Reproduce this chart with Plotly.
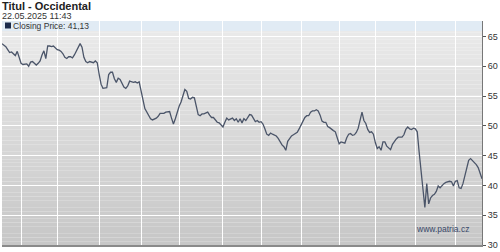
import pandas as pd
import plotly.graph_objects as go

# ---- data ----
title_text = "Titul - Occidental"
stamp_text = "22.05.2025 11:43"
series_name = "Closing Price"
watermark = "www.patria.cz"

holidays = ["2024-05-27", "2024-06-19", "2024-07-04", "2024-09-02", "2024-11-28",
            "2024-12-25", "2025-01-01", "2025-01-09", "2025-01-20", "2025-02-17",
            "2025-04-18"]
start_date = "2024-05-17"
end_date = "2025-05-21"

close = [
    63.8, 63.6, 63.3, 62.8, 62.3, 62.4, 62.0, 61.8, 62.5, 61.3,
    60.5, 60.3, 60.3, 60.4, 60.0, 60.7, 60.8, 60.5, 60.2, 60.5,
    60.9, 61.9, 62.6, 61.3, 63.4, 63.4, 63.3, 63.4, 63.0, 62.8,
    62.7, 62.5, 62.1, 61.5, 61.3, 61.6, 61.6, 61.4, 61.9, 62.6,
    63.4, 63.8, 63.2, 61.5, 60.8, 60.6, 60.8, 60.7, 60.6, 60.9,
    60.6, 58.7, 57.0, 56.3, 56.3, 56.4, 58.6, 59.0, 59.0, 57.9,
    57.3, 58.0, 57.8, 57.0, 56.5, 56.3, 56.7, 57.5, 57.4, 57.3,
    57.4, 57.2, 57.4, 55.6, 54.4, 52.9, 52.4, 51.9, 51.2, 51.0,
    51.1, 51.3, 51.6, 52.1, 52.1, 52.1, 52.3, 52.3, 52.4, 51.3,
    50.3, 51.2, 52.4, 53.3, 54.0, 55.3, 56.1, 55.8, 54.6, 54.5,
    54.8, 54.7, 53.0, 51.9, 51.7, 52.0, 52.0, 52.1, 52.3, 51.8,
    51.4, 51.4, 50.9, 50.6, 50.5, 50.2, 49.8, 50.6, 51.3, 51.0,
    51.1, 51.3, 50.9, 51.2, 50.6, 51.2, 50.5, 51.2, 50.9, 51.4,
    51.9, 51.8, 51.1, 50.7, 50.9, 50.6, 50.7, 50.3, 49.5, 48.6,
    48.4, 48.8, 48.6, 48.4, 48.3, 47.9, 47.2, 46.8, 46.5, 45.9,
    47.4, 47.9, 48.3, 48.5, 48.7, 48.9, 49.5, 50.2, 50.8, 51.4,
    51.7, 51.7, 52.3, 52.5, 52.5, 52.7, 52.5, 51.8, 50.8, 50.6,
    50.6, 49.9, 49.7, 49.4, 49.2, 49.0, 47.9, 47.0, 47.3, 47.2,
    47.1, 48.0, 48.6, 48.7, 48.4, 48.5, 48.9, 49.6, 51.0, 52.3,
    50.9, 50.4, 49.4, 48.9, 49.0, 48.6, 47.2, 46.2, 46.5, 45.9,
    47.3, 47.3, 46.6, 46.2, 46.0, 46.9, 47.4, 47.8, 48.1, 48.1,
    48.1, 48.5, 49.4, 49.8, 49.5, 49.4, 49.6, 49.5, 49.0, 45.6,
    41.8, 39.4, 36.3, 40.3, 36.9, 37.9, 38.3, 38.5, 39.0, 39.9,
    39.6, 40.0, 40.3, 40.5, 40.6, 40.7, 40.6, 39.9, 40.7, 40.8,
    39.6, 39.5, 40.3, 41.8, 42.7, 44.2, 44.5, 44.2, 43.8, 43.5,
    43.0, 42.2, 41.13,
]
y_ticks = [30, 35, 40, 45, 50, 55, 60, 65]
y_range = [30, 67.6]

# ---- build ----
dates = pd.bdate_range(start_date, end_date, freq="C", holidays=holidays)
dates = list(dates[:len(close)])
x = [d.strftime("%Y-%m-%d") for d in dates]
month_starts = [x[i] for i in range(1, len(dates)) if dates[i].month != dates[i - 1].month]

FONT = "Liberation Sans, Arial, sans-serif"
fig = go.Figure()
fig.add_trace(go.Scatter(x=x, y=close, mode="lines",
                         line=dict(color="#4b5569", width=1.3),
                         showlegend=False, hoverinfo="skip"))

# gradient background bands (style only)
shapes = []
n = 60
top = (235, 235, 235)
bot = (199, 199, 199)
for k in range(n):
    t = k / (n - 1)
    c = tuple(int(round(top[j] + (bot[j] - top[j]) * t)) for j in range(3))
    shapes.append(dict(type="rect", xref="paper", yref="paper",
                       x0=0, x1=1, y0=1 - (k + 1) / n, y1=1 - k / n,
                       fillcolor="rgb(%d,%d,%d)" % c, line=dict(width=0),
                       layer="below"))
# light blue legend band at top
shapes.append(dict(type="rect", xref="paper", yref="paper", x0=0, x1=1,
                   y0=0.955, y1=1, fillcolor="#e1ebf4", line=dict(width=0),
                   layer="below"))
# legend swatch (dark navy square)
shapes.append(dict(type="rect", xref="paper", yref="paper",
                   xsizemode="pixel", xanchor=0, x0=3, x1=9,
                   ysizemode="pixel", yanchor=1, y0=-1.5, y1=-7.5,
                   fillcolor="#1b2a4a", line=dict(width=0), layer="above"))

last_txt = f"{close[-1]:.2f}".replace(".", ",")
annotations = [
    dict(text="<b>" + title_text + "</b>", xref="paper", yref="paper", x=0, y=1,
         xanchor="left", yanchor="middle", xshift=-1, yshift=15.5, showarrow=False,
         borderpad=0, font=dict(family=FONT, size=11, color="#222222")),
    dict(text=stamp_text, xref="paper", yref="paper", x=0, y=1,
         xanchor="left", yanchor="middle", xshift=-1, yshift=5.5, showarrow=False,
         borderpad=0, font=dict(family=FONT, size=9, color="#333333")),
    dict(text=series_name + ": " + last_txt,
         xref="paper", yref="paper", x=0, y=1, xanchor="left", yanchor="middle",
         xshift=10, yshift=-4.5, showarrow=False, borderpad=0,
         font=dict(family=FONT, size=8.5, color="#333333")),
    dict(text=watermark, xref="paper", yref="paper", x=0.978, y=0.07,
         xanchor="right", yanchor="middle", showarrow=False,
         font=dict(family=FONT, size=8.5, color="#3b4a6b")),
]

fig.update_layout(
    width=500, height=252,
    margin=dict(l=2, r=16, t=21, b=6),
    paper_bgcolor="white", plot_bgcolor="rgba(0,0,0,0)",
    shapes=shapes, annotations=annotations,
    showlegend=False,
    xaxis=dict(type="category", range=[0, len(x) - 1],
               tickmode="array", tickvals=month_starts, showticklabels=False,
               ticks="", showgrid=True, gridcolor="white", gridwidth=1.2,
               showline=True, linecolor="#8a8a8a", linewidth=2, zeroline=False),
    yaxis=dict(side="right", range=y_range, tickmode="array", tickvals=y_ticks,
               ticks="outside", ticklen=3, tickcolor="#555555",
               showline=True, linecolor="#777777", linewidth=1,
               showgrid=True, gridcolor="white", gridwidth=1.2, zeroline=False,
               tickfont=dict(family=FONT, size=9, color="#333333")),
)

fig.write_html("out.html")
